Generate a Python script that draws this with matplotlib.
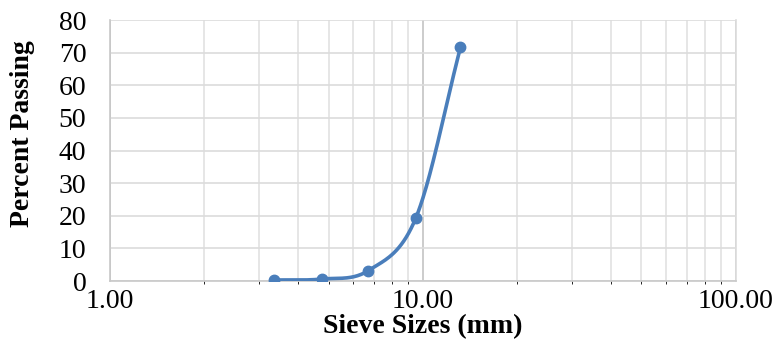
import numpy as np
import matplotlib
matplotlib.use("Agg")
import matplotlib.pyplot as plt
from matplotlib.ticker import FixedLocator, NullFormatter

# sieve data
sieve_mm = [3.35, 4.75, 6.7, 9.5, 13.2]
pct_pass = [0.3, 0.6, 3.2, 19.3, 71.6]
x_ticks = [1, 10, 100]
x_ticklabels = ["1.00", "10.00", "100.00"]
y_ticks = [0, 10, 20, 30, 40, 50, 60, 70, 80]

plt.rcParams["font.family"] = ["Liberation Serif", "DejaVu Serif"]
BLUE = "#4a7ebb"


def smooth(xs, ys, n=40):
    # Catmull-Rom in log-x space, like Excel's smoothed line
    lx = np.log10(xs); y = np.asarray(ys, float)
    P = np.column_stack([lx, y])
    P = np.vstack([P[0] - (P[1] - P[0]), P, P[-1] + (P[-1] - P[-2])])
    out = []
    for i in range(1, len(P) - 2):
        p0, p1, p2, p3 = P[i - 1], P[i], P[i + 1], P[i + 2]
        t = np.linspace(0, 1, n)[:, None]
        seg = 0.5 * ((2 * p1) + (-p0 + p2) * t + (2 * p0 - 5 * p1 + 4 * p2 - p3) * t**2
                     + (-p0 + 3 * p1 - 3 * p2 + p3) * t**3)
        out.append(seg)
    out = np.vstack(out)
    return 10 ** out[:, 0], out[:, 1]


fig = plt.figure(figsize=(7.8, 3.48), dpi=100)
ax = fig.add_axes([0.141, 0.1925, 0.802, 0.75])
ax.set_xscale("log")
ax.set_xlim(1, 100)
ax.set_ylim(0, 80)

ax.xaxis.set_major_locator(FixedLocator(x_ticks))
ax.set_xticklabels(x_ticklabels)
ax.xaxis.set_minor_locator(FixedLocator([m * d for d in (1, 10) for m in range(2, 10)]))
ax.xaxis.set_minor_formatter(NullFormatter())
ax.set_yticks(y_ticks)

ax.grid(True, which="major", axis="x", color="#c4c4c4", lw=1.2)
ax.grid(True, which="minor", axis="x", color="#e2e2e2", lw=1.2)
ax.grid(True, which="major", axis="y", color="#dcdcdc", lw=1.2)
ax.set_axisbelow(True)

ax.spines["top"].set_visible(False)
ax.spines["right"].set_color("#dcdcdc")
ax.spines["right"].set_linewidth(1.2)
for s in ("left", "bottom"):
    ax.spines[s].set_color("#c8c8c8")
    ax.spines[s].set_linewidth(1.2)
ax.tick_params(length=0, labelsize=20)
ax.tick_params(axis="x", pad=6)
ax.tick_params(axis="y", pad=17)

sx, sy = smooth(sieve_mm, pct_pass)
ax.plot(sx, sy, color=BLUE, lw=2.6, solid_capstyle="round", zorder=3)
ax.plot(sieve_mm, pct_pass, "o", color=BLUE, ms=7.5, zorder=4)

ax.set_xlabel("Sieve Sizes (mm)", fontsize=20, fontweight="bold", labelpad=0)
ax.set_ylabel("Percent Passing", fontsize=20, fontweight="bold")
ax.yaxis.set_label_coords(-0.12, 0.565)

fig.savefig("out.png", dpi=100)
